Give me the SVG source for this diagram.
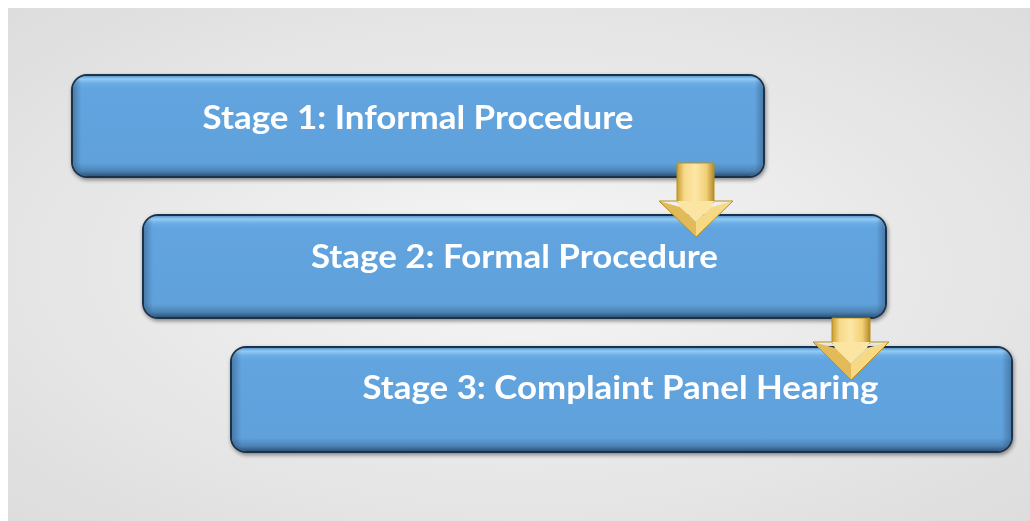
<svg xmlns="http://www.w3.org/2000/svg" width="1030" height="521" viewBox="0 0 1030 521">
  <defs>
    <radialGradient id="bg" cx="0.5" cy="0.5" r="0.75">
      <stop offset="0" stop-color="#f6f6f6"/>
      <stop offset="1" stop-color="#dcdbdc"/>
    </radialGradient>
    <!-- vertical bevel shading for the stage boxes -->
    <linearGradient id="boxShade" x1="0" y1="0" x2="0" y2="1">
      <stop offset="0" stop-color="#5a97cf"/>
      <stop offset="0.03" stop-color="#93ccf3"/>
      <stop offset="0.07" stop-color="#6cafe7"/>
      <stop offset="0.12" stop-color="#62a4df"/>
      <stop offset="0.87" stop-color="#60a1db"/>
      <stop offset="0.95" stop-color="#4d83b5"/>
      <stop offset="1" stop-color="#2f5579"/>
    </linearGradient>
    <!-- horizontal edge darkening -->
    <linearGradient id="sideShade" x1="0" y1="0" x2="1" y2="0">
      <stop offset="0" stop-color="#1d3149" stop-opacity="0.35"/>
      <stop offset="0.012" stop-color="#1d3149" stop-opacity="0"/>
      <stop offset="0.988" stop-color="#1d3149" stop-opacity="0"/>
      <stop offset="1" stop-color="#1d3149" stop-opacity="0.35"/>
    </linearGradient>
    <linearGradient id="shaft" x1="0" y1="0" x2="1" y2="0">
      <stop offset="0" stop-color="#c99d33"/>
      <stop offset="0.2" stop-color="#f6d98a"/>
      <stop offset="0.5" stop-color="#fde7a6"/>
      <stop offset="0.8" stop-color="#f1cf76"/>
      <stop offset="1" stop-color="#b38a28"/>
    </linearGradient>
    <filter id="shadow" x="-5%" y="-10%" width="110%" height="130%">
      <feGaussianBlur in="SourceAlpha" stdDeviation="2"/>
      <feOffset dx="1" dy="2" result="b"/>
      <feComponentTransfer><feFuncA type="linear" slope="0.45"/></feComponentTransfer>
      <feMerge><feMergeNode/><feMergeNode in="SourceGraphic"/></feMerge>
    </filter>
  </defs>
  <style>
    .box { fill: #62a4df; stroke: #1d3149; stroke-width: 2; }
    .bevel { fill: url(#boxShade); stroke: none; }
    .side { fill: url(#sideShade); stroke: none; }
    .label { font-family: Lato, "Open Sans", "Liberation Sans", sans-serif; font-weight: bold; font-size: 33px; fill: #ffffff; }
    .facetL { fill: #e2bb58; }
    .facetR { fill: #f7d983; }
    .facetC { fill: #fce4a2; }
    .rim { fill: none; stroke: #b8901f; stroke-width: 1; }
  </style>

  <!-- backdrop -->
  <rect x="0" y="0" width="1030" height="521" fill="#ffffff"/>
  <rect x="8" y="8" width="1022" height="513" fill="url(#bg)"/>

  <g id="stage1" filter="url(#shadow)">
    <rect class="box" x="72" y="75" width="692" height="102" rx="15"/>
    <rect class="bevel" x="73" y="76" width="690" height="100" rx="14"/>
    <rect class="side" x="73" y="76" width="690" height="100" rx="14"/>
    <text class="label" x="418" y="129" text-anchor="middle" textLength="431" lengthAdjust="spacingAndGlyphs">Stage 1: Informal Procedure</text>
  </g>

  <g id="stage2" filter="url(#shadow)">
    <rect class="box" x="143" y="215" width="743" height="103" rx="15"/>
    <rect class="bevel" x="144" y="216" width="741" height="101" rx="14"/>
    <rect class="side" x="144" y="216" width="741" height="101" rx="14"/>
    <text class="label" x="514.5" y="268" text-anchor="middle" textLength="407" lengthAdjust="spacingAndGlyphs">Stage 2: Formal Procedure</text>
  </g>

  <g id="stage3" filter="url(#shadow)">
    <rect class="box" x="231" y="347" width="781" height="105" rx="15"/>
    <rect class="bevel" x="232" y="348" width="779" height="103" rx="14"/>
    <rect class="side" x="232" y="348" width="779" height="103" rx="14"/>
    <text class="label" x="620.5" y="399" text-anchor="middle" textLength="516" lengthAdjust="spacingAndGlyphs">Stage 3: Complaint Panel Hearing</text>
  </g>

  <g id="connectors">
    <!-- arrow from stage 1 to stage 2 -->
    <g id="arrow1">
      <rect x="677" y="163" width="37" height="40" fill="url(#shaft)"/>
      <polygon class="facetL" points="659,201 696,237 696,222 680,207"/>
      <polygon class="facetR" points="733,201 696,237 696,222 712,207"/>
      <polygon class="facetC" points="680,207 696,222 712,207 714,201 677,201"/>
      <polygon class="rim" points="677,163 714,163 714,201 733,201 696,237 659,201 677,201"/>
    </g>
    <!-- arrow from stage 2 to stage 3 -->
    <g id="arrow2">
      <rect x="832" y="318" width="38" height="26" fill="url(#shaft)"/>
      <polygon class="facetL" points="813,342 851,380 851,364 835,348"/>
      <polygon class="facetR" points="889,342 851,380 851,364 867,348"/>
      <polygon class="facetC" points="835,348 851,364 867,348 870,342 832,342"/>
      <polygon class="rim" points="832,318 870,318 870,342 889,342 851,380 813,342 832,342"/>
    </g>
  </g>
</svg>
